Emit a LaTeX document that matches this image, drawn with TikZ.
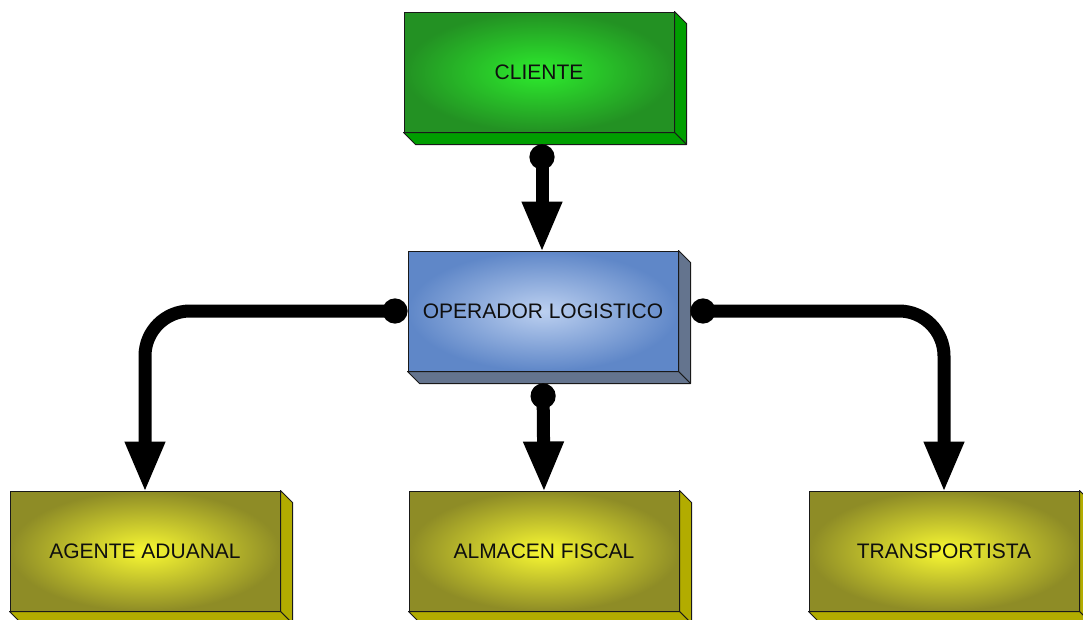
\documentclass[tikz,border=0pt]{standalone}
\usepackage{fontspec}
\setmainfont{Liberation Sans}
\usetikzlibrary{arrows.meta,calc}

% face colours
\definecolor{grIn}{RGB}{45,235,45}
\definecolor{grOut}{RGB}{35,145,35}
\definecolor{grSide}{RGB}{0,158,0}
\definecolor{blIn}{RGB}{188,208,240}
\definecolor{blOut}{RGB}{95,135,200}
\definecolor{blSide}{RGB}{100,116,142}
\definecolor{yeIn}{RGB}{248,248,50}
\definecolor{yeOut}{RGB}{142,140,38}
\definecolor{yeSide}{RGB}{178,172,0}
\definecolor{edge}{RGB}{25,25,25}
\definecolor{label}{RGB}{15,15,15}

\tikzset{
  block/.style={draw=edge, line width=1pt, minimum width=270pt, minimum height=120pt,
    inner sep=0pt, font=\fontsize{21}{24}\selectfont, text=label},
  greenblock/.style={block, inner color=grIn, outer color=grOut},
  blueblock/.style={block, inner color=blIn, outer color=blOut},
  yellowblock/.style={block, inner color=yeIn, outer color=yeOut},
  conn/.style={line width=13pt, draw=black,
    {Circle[length=25pt,width=25pt]}-{Triangle[length=51pt,width=37pt]}},
}

% extruded side and bottom faces of a block
\newcommand{\depthfaces}[2]{%
  \filldraw[fill=#2, draw=edge, line width=1pt, line join=round]
    (#1.north east) -- ++(12,12) -- ($(#1.south east)+(12,12)$) -- (#1.south east) -- cycle;
  \filldraw[fill=#2, draw=edge, line width=1pt, line join=round]
    (#1.south west) -- ++(12,12) -- ($(#1.south east)+(12,12)$) -- (#1.south east) -- cycle;
}

\begin{document}
\begin{tikzpicture}[x=1pt, y=-1pt]
  \useasboundingbox (0,0) rectangle (1083,619);

  \node[greenblock]  (cl) at (539,72)  {CLIENTE};
  \node[blueblock]   (op) at (543,311) {OPERADOR LOGISTICO};
  \node[yellowblock] (ag) at (145,551) {AGENTE ADUANAL};
  \node[yellowblock] (al) at (544,551) {ALMACEN FISCAL};
  \node[yellowblock] (tr) at (944,551) {TRANSPORTISTA};

  \depthfaces{cl}{grSide}
  \depthfaces{op}{blSide}
  \depthfaces{ag}{yeSide}
  \depthfaces{al}{yeSide}
  \depthfaces{tr}{yeSide}

  % connectors
  \draw[conn] ([xshift=3pt,yshift=-12pt]cl.south) -- ([xshift=-1pt,yshift=-2pt]op.north);
  \draw[conn] ([yshift=-12pt]op.south) -- ([yshift=-2pt]al.north);
  \draw[conn, rounded corners=45pt] (op.west) -| ([yshift=-2pt]ag.north);
  \draw[conn, rounded corners=45pt] ([xshift=12pt]op.east) -| ([yshift=-2pt]tr.north);
\end{tikzpicture}
\end{document}
